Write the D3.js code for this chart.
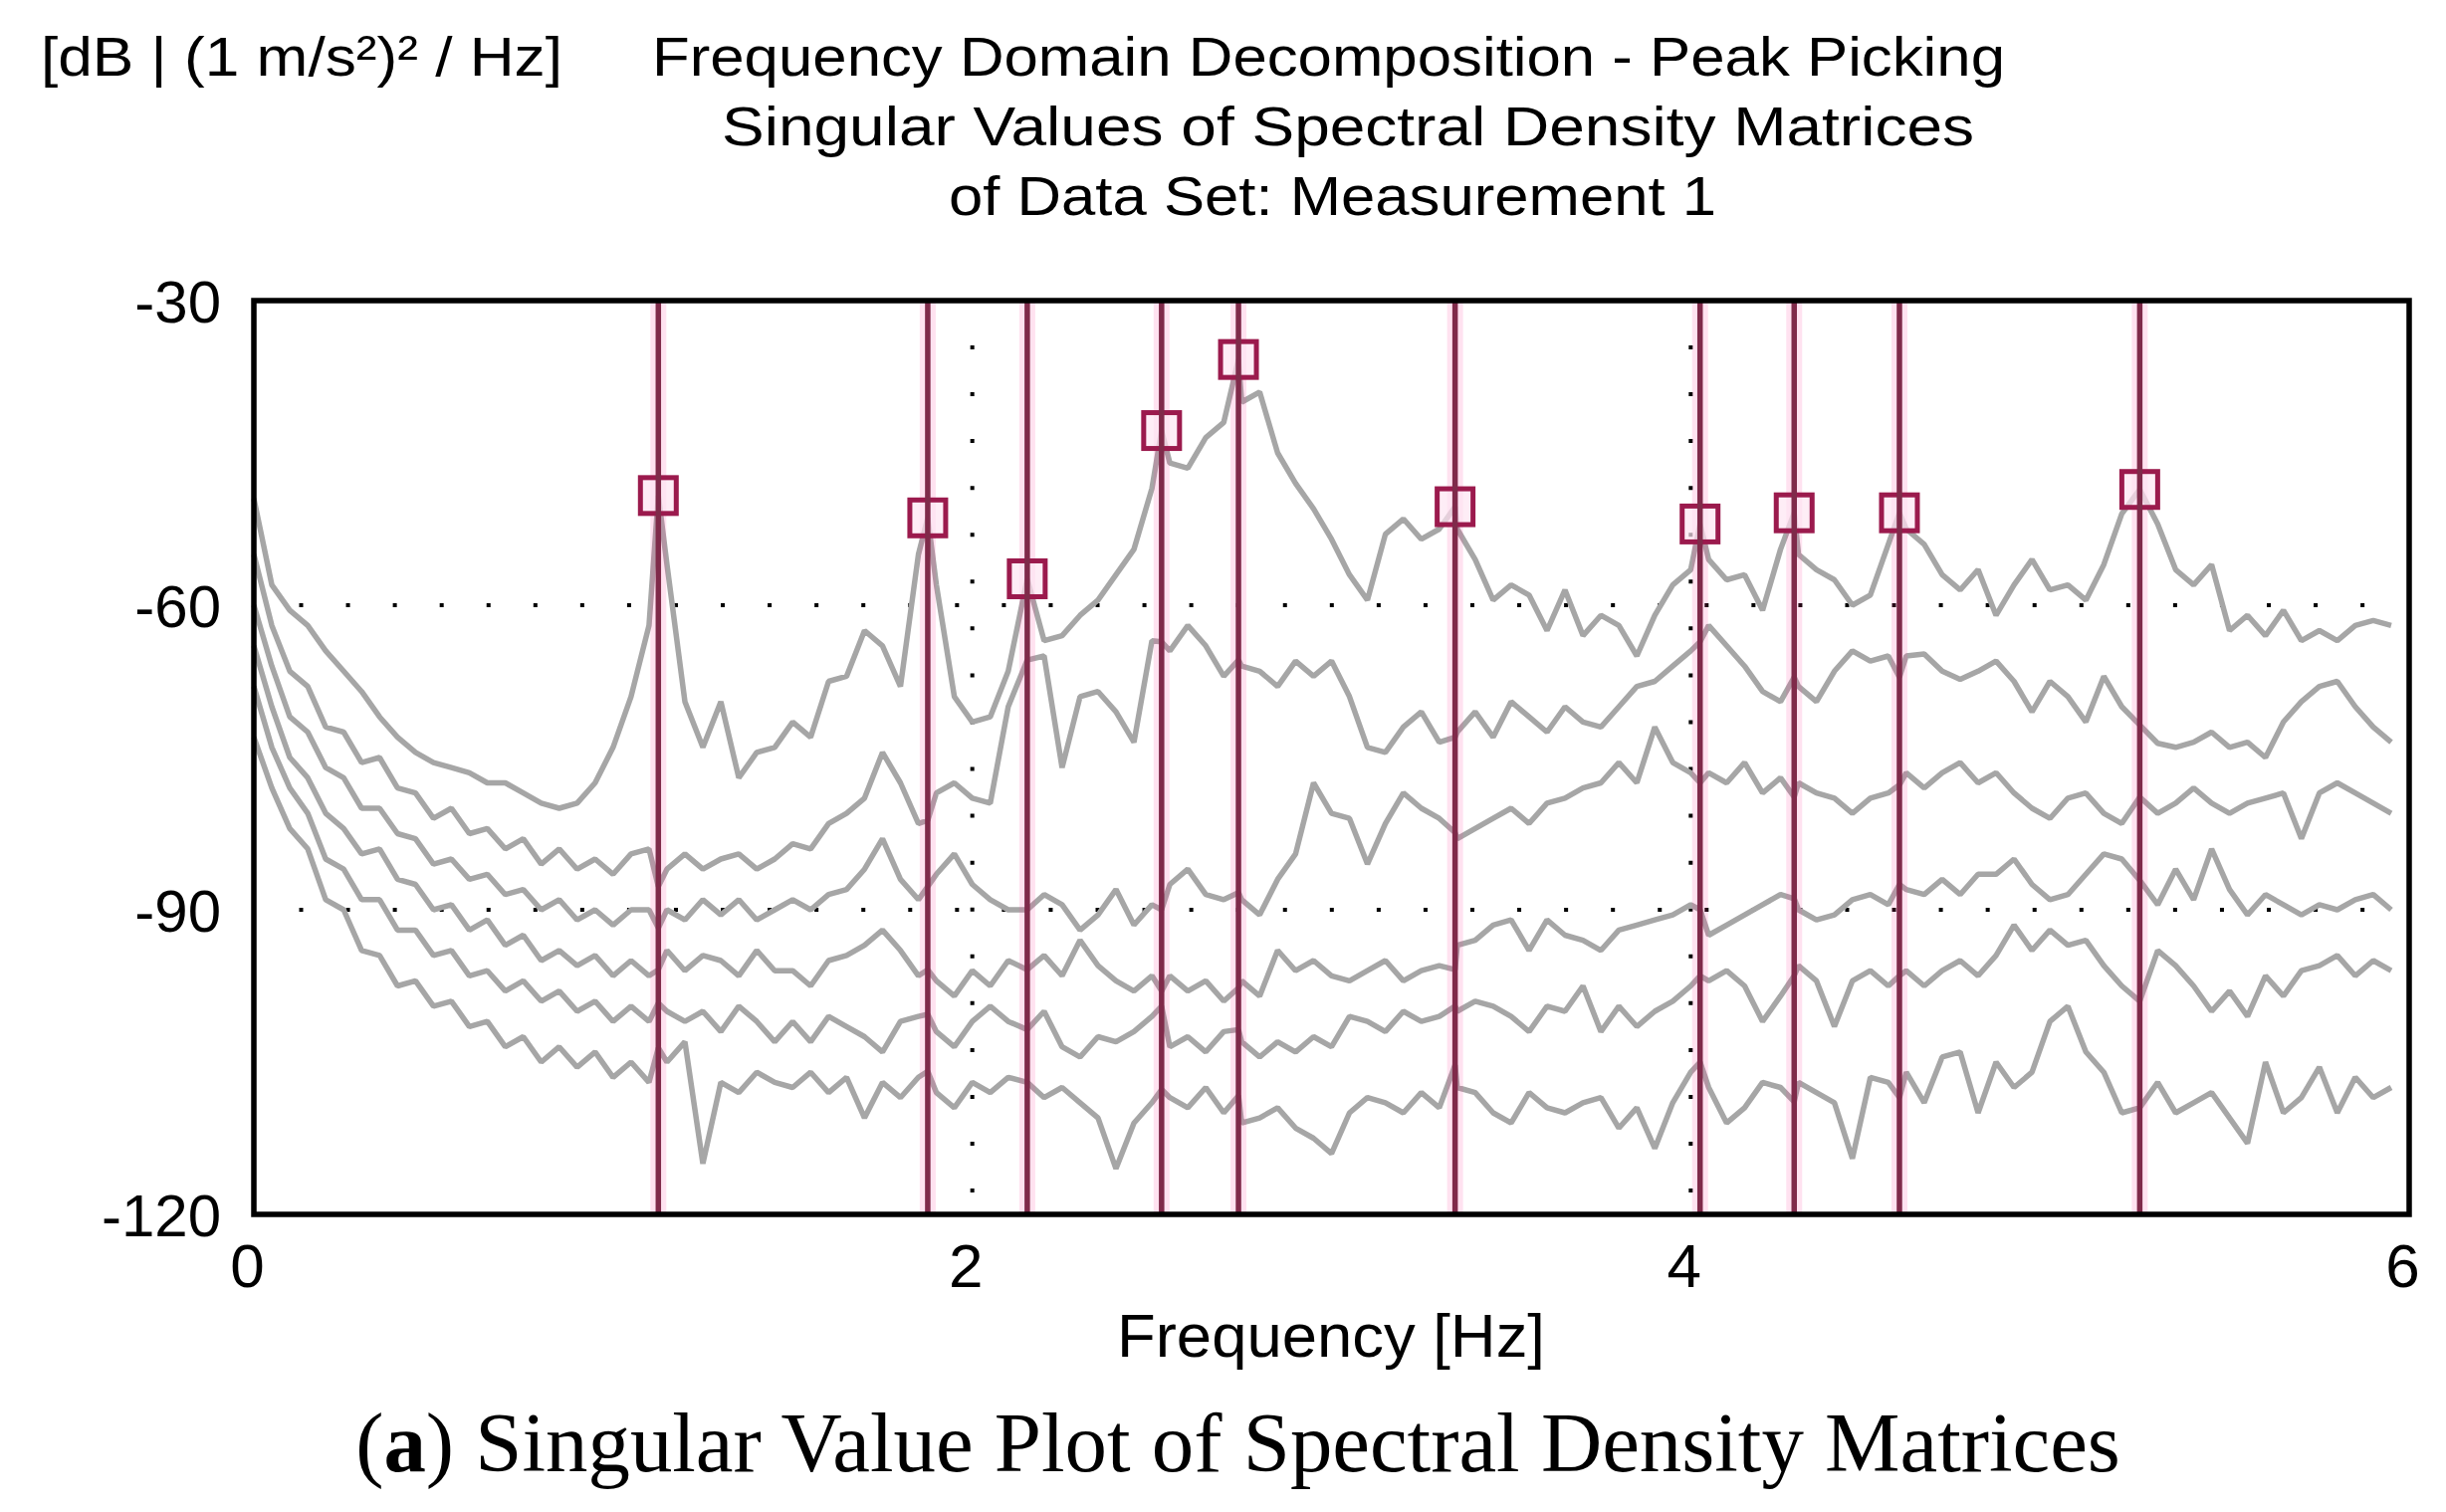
<!DOCTYPE html>
<html><head><meta charset="utf-8">
<script src="https://cdn.jsdelivr.net/npm/d3@7"></script>
<style>
html,body{margin:0;padding:0;background:#fff;}
svg{display:block;}
</style></head>
<body>
<svg id="chart" width="2457" height="1519"></svg>
<script>
// ---------- DATA ----------
const freqs = [0,0.05,0.1,0.15,0.2,0.25,0.3,0.35,0.4,0.45,0.5,0.55,0.6,0.65,0.7,0.75,0.8,0.85,0.9,0.95,1,1.05,1.1,1.126,1.15,1.2,1.25,1.3,1.35,1.4,1.45,
1.5,1.55,1.6,1.65,1.7,1.75,1.8,1.85,1.876,1.9,1.95,2,2.05,2.1,2.153,2.2,2.25,2.3,2.35,2.4,2.45,2.5,2.527,2.55,2.6,2.65,2.7,2.741,2.75,2.8,2.85,2.9,2.95,3,
3.05,3.1,3.15,3.2,3.25,3.3,3.344,3.35,3.4,3.45,3.5,3.55,3.6,3.65,3.7,3.75,3.8,3.85,3.9,3.95,4,4.026,4.05,4.1,4.15,4.2,4.25,4.288,4.3,4.35,4.4,4.45,4.5,4.55,
4.581,4.6,4.65,4.7,4.75,4.8,4.85,4.9,4.95,5,5.05,5.1,5.15,5.2,5.25,5.3,5.35,5.4,5.45,5.5,5.55,5.6,5.65,5.7,5.75,5.8,5.85,5.9,5.95];

const sv1 = [-49.5,-58,-60.5,-62,-64.5,-66.5,-68.5,-71,-73,-74.5,-75.5,-76,-76.5,-77.5,-77.5,-78.5,-79.5,-80,-79.5,-77.5,-74,-69,-62,-49.2,-56,-69.5,-74,-69.5,-77,-74.5,-74,
-71.5,-73,-67.5,-67,-62.5,-64,-68,-55,-51.4,-58,-69,-71.5,-71,-66.5,-57.4,-63.5,-63,-61,-59.5,-57,-54.5,-48.5,-42.8,-46,-46.5,-43.5,-42,-35.8,-40,-39,-45,-48,-50.5,-53.5,
-57,-59.5,-53,-51.5,-53.5,-52.5,-50.3,-52.5,-55.5,-59.5,-58,-59,-62.5,-58.5,-63,-61,-62,-65,-61,-58,-56.5,-52,-55.5,-57.5,-57,-60.5,-54.5,-50.9,-55,-56.5,-57.5,-60,-59,-54,
-50.9,-52.5,-54,-57,-58.5,-56.5,-61,-58,-55.5,-58.5,-58,-59.5,-56,-51,-48.6,-52,-56.5,-58,-56,-62.5,-61,-63,-60.5,-63.5,-62.5,-63.5,-62,-61.5,-62];

const sv2 = [-55,-62,-66.5,-68,-72,-72.5,-75.5,-75,-78,-78.5,-81,-80,-82.5,-82,-84,-83,-85.5,-84,-86,-85,-86.5,-84.5,-84,-87.7,-86,-84.5,-86,-85,-84.5,-86,-85,
-83.5,-84,-81.5,-80.5,-79,-74.5,-77.5,-81.5,-81.2,-78.5,-77.5,-79,-79.5,-70,-65.4,-65,-76,-69,-68.5,-70.5,-73.5,-63.5,-63.6,-64.5,-62,-64,-67,-65.4,-66,-66.5,-68,-65.5,-67,-65.5,
-69,-74,-74.5,-72,-70.5,-73.5,-73,-72.5,-70.5,-73,-69.5,-71,-72.5,-70,-71.5,-72,-70,-68,-67.5,-66,-64.5,-63.6,-62,-64,-66,-68.5,-69.5,-67.1,-68,-69.5,-66.5,-64.5,-65.5,-65,
-67.1,-65,-64.8,-66.5,-67.3,-66.5,-65.5,-67.5,-70.5,-67.5,-69,-71.5,-67,-70,-71.8,-73.6,-74,-73.5,-72.5,-74,-73.5,-75,-71.5,-69.5,-68,-67.5,-70,-72,-73.5];

const sv3 = [-60,-66,-71,-72.5,-76,-77,-80,-80,-82.5,-83,-85.5,-85,-87,-86.5,-88.5,-88,-90,-89,-91,-90,-91.5,-90,-90,-91.8,-90,-91,-89,-90.5,-89,-91,-90,
-89,-90,-88.5,-88,-86,-83,-87,-89,-87.7,-86.5,-84.5,-87.5,-89,-90,-90,-88.5,-89.5,-92,-90.5,-88,-91.5,-89.5,-90,-87.5,-86,-88.5,-89,-88.3,-89,-90.5,-87,-84.5,-77.5,-80.5,
-81,-85.5,-81.5,-78.5,-80,-81,-82.4,-83,-82,-81,-80,-81.5,-79.5,-79,-78,-77.5,-75.5,-77.5,-72,-75.5,-76.5,-77.5,-76.5,-77.5,-75.5,-78.5,-77,-78.9,-77.5,-78.5,-79,-80.5,-79,-78.5,
-77.7,-76.5,-78,-76.5,-75.5,-77.5,-76.5,-78.5,-80,-81,-79,-78.5,-80.5,-81.5,-78.9,-80.5,-79.5,-78,-79.5,-80.5,-79.5,-79,-78.5,-83,-78.5,-77.5,-78.5,-79.5,-80.5];

const sv4 = [-64,-70,-75,-77,-80.5,-82,-84.5,-84,-87,-87.5,-90,-89.5,-92,-91,-93.5,-92.5,-95,-94,-95.5,-94.5,-96.5,-95,-96.5,-95.9,-94,-96,-94.5,-95,-96.5,-94,-96,
-96,-97.5,-95,-94.5,-93.5,-92,-94,-96.5,-95.9,-97,-98.5,-96,-97.5,-95,-95.9,-94.5,-96.5,-93,-95.5,-97,-98,-96.5,-98,-96.5,-98,-97,-99,-97.7,-97,-98.5,-94,-96,-95,-96.5,
-97,-96,-95,-97,-96,-95.5,-95.9,-93.5,-93,-91.5,-91,-94,-91,-92.5,-93,-94,-92,-91.5,-91,-90.5,-89.5,-90,-92.5,-91.5,-90.5,-89.5,-88.5,-88.9,-90,-91,-90.5,-89,-88.5,-89.5,
-87.5,-88,-88.5,-87,-88.5,-86.5,-86.5,-85,-87.5,-89,-88.5,-86.5,-84.5,-85,-87.1,-89.5,-86,-89,-84,-88,-90.5,-88.5,-89.5,-90.5,-89.5,-90,-89,-88.5,-90];

const sv5 = [-68,-74,-78,-80.5,-85,-86,-89,-89,-92,-92,-94.5,-94,-96.5,-96,-98,-97,-99,-98,-100,-99,-101,-99.5,-101,-99.2,-100,-101,-100,-102,-99.5,-101,-103,
-101,-103,-100.5,-101.5,-102.5,-104,-101,-100.5,-100.3,-102,-103.5,-101,-99.5,-101,-101.8,-100,-103.5,-104.5,-102.5,-103,-102,-100.5,-99.5,-103.5,-102.5,-104,-102,-101.8,-103,-104.5,-103,-104,-102.5,-103.5,
-100.5,-101,-102,-100,-101,-100.5,-99.5,-100,-99,-99.5,-100.5,-102,-99.5,-100,-97.5,-102,-99.5,-101.5,-100,-99,-97.5,-96.5,-97,-96,-97.5,-101,-98.5,-96.5,-95.5,-97,-101.5,-97,-96,-97.5,
-96.5,-96,-97.5,-96,-95,-96.5,-94.5,-91.5,-94,-92,-93.5,-93,-95.5,-97.5,-99,-94,-95.5,-97.5,-100,-98,-100.5,-96.5,-98.5,-96,-95.5,-94.5,-96.5,-95,-96];

const sv6 = [-73,-78,-82,-84,-89,-90,-94,-94.5,-97.5,-97,-99.5,-99,-101.5,-101,-103.5,-102.5,-105,-103.5,-105.5,-104,-106.5,-105,-107,-103.6,-105,-103,-115,-107,-108,-106,-107,
-107.5,-106,-108,-106.5,-110.5,-107,-108.5,-106.5,-105.9,-108,-109.5,-107,-108,-106.5,-107,-108.5,-107.5,-109,-110.5,-115.5,-111,-109,-107.7,-108.5,-109.5,-107.5,-110,-108.3,-111,-110.5,-109.5,-111.5,-112.5,-114,
-110,-108.5,-109,-110,-108,-109.5,-105.3,-107.5,-108,-110,-111,-108,-109.5,-110,-109,-108.5,-111.5,-109.5,-113.5,-109,-106,-105,-107.5,-111,-109.5,-107,-107.5,-108.9,-107,-108,-109,-114.5,-106.5,-107,
-108.5,-106,-109,-104.5,-104,-110,-105,-107.5,-106,-101,-99.5,-104,-106,-110,-109.5,-107,-110,-109,-108,-110.5,-113,-105,-110,-108.5,-105.5,-110,-106.5,-108.5,-107.5];

const peakFreqs  = [1.126, 1.876, 2.153, 2.527, 2.741, 3.344, 4.026, 4.288, 4.581, 5.25];
const peakValues = [-49.2, -51.4, -57.4, -42.8, -35.8, -50.3, -52.0, -50.9, -50.9, -48.6];

const xTicks = [0, 2, 4, 6];
const yTicks = [-30, -60, -90, -120];
const gridX = [2, 4];
const gridY = [-60, -90];

const titleLines = ["Frequency Domain Decomposition - Peak Picking",
                    "Singular Values of Spectral Density Matrices",
                    "of Data Set: Measurement 1"];
const unitLabel = "[dB | (1 m/s\u00B2)\u00B2 / Hz]";
const xLabel = "Frequency [Hz]";
const captionBold = "a";
const captionRest = " Singular Value Plot of Spectral Density Matrices";

// ---------- CHART ----------
const series = [sv6, sv5, sv4, sv3, sv2, sv1];
series.forEach(s => { if (s.length !== freqs.length) console.error("length mismatch", s.length, freqs.length); });

const svg = d3.select("#chart");
const P = {left: 255, right: 2420, top: 302, bottom: 1220};
const x = d3.scaleLinear().domain([0, 6]).range([P.left, P.right]);
const y = d3.scaleLinear().domain([-120, -30]).range([P.bottom, P.top]);
const sans = "'Liberation Sans', Arial, Helvetica, sans-serif";
const serif = "'Liberation Serif', 'Times New Roman', Times, serif";

svg.append("rect").attr("width", 2457).attr("height", 1519).attr("fill", "#fff");

// dotted grid
const grid = svg.append("g");
grid.selectAll("line.gy").data(gridY).join("line").attr("class", "gy")
  .attr("x1", P.left + 45.5).attr("x2", P.right - 3)
  .attr("y1", d => y(d)).attr("y2", d => y(d))
  .attr("stroke", "#000").attr("stroke-width", 4).attr("stroke-dasharray", "4 43.06");
grid.selectAll("line.gx").data(gridX).join("line").attr("class", "gx")
  .attr("x1", d => x(d)).attr("x2", d => x(d))
  .attr("y1", P.top + 45).attr("y2", P.bottom - 3)
  .attr("stroke", "#000").attr("stroke-width", 4).attr("stroke-dasharray", "4 43.06");

// singular value curves
const line = d3.line().x((d, i) => x(freqs[i])).y(d => y(d));
svg.append("g").selectAll("path").data(series).join("path")
  .attr("d", line).attr("fill", "none")
  .attr("stroke", "#a6a6a6").attr("stroke-width", 5.5).attr("stroke-linejoin", "bevel");

// peak picking lines
const pk = svg.append("g");
pk.selectAll("line.halo").data(peakFreqs).join("line").attr("class", "halo")
  .attr("x1", d => x(d)).attr("x2", d => x(d)).attr("y1", P.top).attr("y2", P.bottom)
  .attr("stroke", "#ff3d9a").attr("stroke-opacity", 0.15).attr("stroke-width", 16);
pk.selectAll("rect").data(peakFreqs).join("rect")
  .attr("x", d => x(d) - 18).attr("y", (d, i) => y(peakValues[i]) - 18)
  .attr("width", 36).attr("height", 36)
  .attr("fill", "#fde6f2").attr("fill-opacity", 0.7)
  .attr("stroke", "#9b1a4d").attr("stroke-width", 5);
pk.selectAll("line.core").data(peakFreqs).join("line").attr("class", "core")
  .attr("x1", d => x(d)).attr("x2", d => x(d)).attr("y1", P.top).attr("y2", P.bottom)
  .attr("stroke", "#7f2a4a").attr("stroke-width", 5.5);

// frame
svg.append("rect").attr("x", P.left).attr("y", P.top)
  .attr("width", P.right - P.left).attr("height", P.bottom - P.top)
  .attr("fill", "none").attr("stroke", "#000").attr("stroke-width", 5.5);

// axes
const yAxis = d3.axisLeft(y).tickValues(yTicks).tickSize(0).tickPadding(33).tickFormat(d => String(d));
svg.append("g").attr("transform", `translate(${P.left},0)`).call(yAxis)
  .call(g => g.select(".domain").remove())
  .attr("font-family", sans).attr("font-size", 60)
  .call(g => g.selectAll("text").attr("fill", "#000").attr("dy", "0.35em"));

const xAxis = d3.axisBottom(x).tickValues(xTicks).tickSize(0).tickPadding(29).tickFormat(d => String(d));
svg.append("g").attr("transform", `translate(0,${P.bottom})`).call(xAxis)
  .call(g => g.select(".domain").remove())
  .attr("font-family", sans).attr("font-size", 62)
  .call(g => g.selectAll("text").attr("fill", "#000").attr("dx", -7));

// texts
function fitText(sel, width) {
  sel.attr("textLength", width).attr("lengthAdjust", "spacingAndGlyphs");
}
const tl = [[655, 76, 1359], [725, 146, 1258], [953, 216, 771]];
titleLines.forEach((t, i) => {
  svg.append("text").attr("x", tl[i][0]).attr("y", tl[i][1])
    .attr("font-family", sans).attr("font-size", 56).attr("fill", "#000")
    .text(t).call(s => fitText(s, tl[i][2]));
});
svg.append("text").attr("x", 41).attr("y", 76)
  .attr("font-family", sans).attr("font-size", 56).attr("fill", "#000")
  .text(unitLabel).call(s => fitText(s, 524));

svg.append("text").attr("x", 1122).attr("y", 1363)
  .attr("font-family", sans).attr("font-size", 62).attr("fill", "#000")
  .text(xLabel).call(s => fitText(s, 430));

// caption
const cap = svg.append("text").attr("y", 1478)
  .attr("font-family", serif).attr("font-size", 85).attr("fill", "#000");
cap.append("tspan").text("(");
cap.append("tspan").attr("font-weight", "bold").text(captionBold);
cap.append("tspan").text(")" + captionRest);
const capW = cap.node().getComputedTextLength();
const capTarget = 2130 - 357;
const fs = 85 * capTarget / capW;
cap.attr("font-size", fs);
const capW2 = cap.node().getComputedTextLength();
cap.attr("x", (357 + 2130) / 2 - capW2 / 2);
</script>
</body></html>
